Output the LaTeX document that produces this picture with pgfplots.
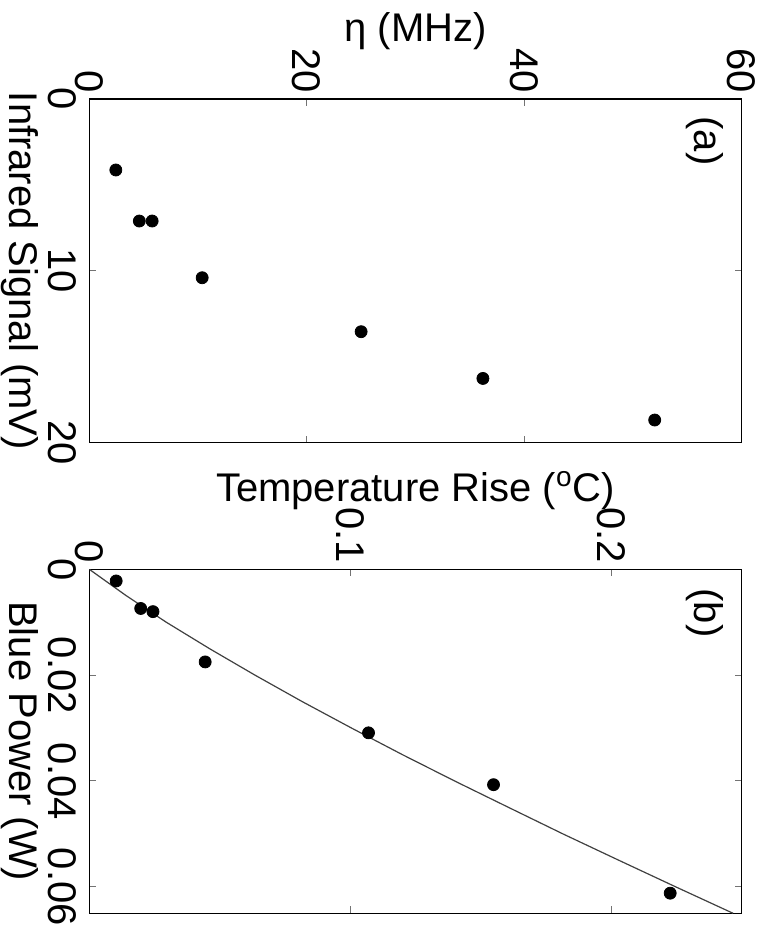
\documentclass[border=0pt]{standalone}
\usepackage{pgfplots}
\usepackage{pgfplotstable}
\pgfplotsset{compat=1.18}
\usepackage{fontspec}
\setmainfont{Liberation Sans}

\pgfplotstableread{
ir eta
4.13 2.44
7.10 4.60
7.10 5.78
10.40 10.38
13.54 25.0
16.26 36.2
18.68 52.0
}\dataA

\pgfplotstableread{
p t
0.0022 0.0103
0.0074 0.0197
0.0080 0.0244
0.0175 0.0444
0.0309 0.1070
0.0407 0.1549
0.0612 0.2226
}\dataB

\pgfplotstableread{
p t
0 0
0.005 0.0142
0.010 0.0295
0.015 0.0461
0.020 0.0635
0.025 0.0816
0.030 0.1005
0.035 0.1199
0.040 0.1400
0.045 0.1607
0.050 0.1815
0.055 0.2030
0.060 0.2247
0.065 0.2467
}\fitB

\pgfplotsset{
  panel/.style={
    scale only axis,
    height=326.2pt,
    scaled x ticks=false,
    scaled y ticks=false,
    axis line style={line width=0.6pt},
    tick style={black!55, line width=0.5pt},
    major tick length=3.5pt,
    tick align=inside,
    xticklabel style={inner sep=0pt, yshift=-6pt},
    yticklabel style={inner sep=0pt, xshift=-3pt},
    xlabel style={at={(axis description cs:0.5,-0.1226)}, anchor=base},
  }
}

\begin{document}
\begin{tikzpicture}[font=\fontsize{20pt}{24pt}\selectfont]
\path[use as bounding box] (0,0) rectangle (385pt,-467pt);
\begin{scope}[rotate=-90, transform shape]
\begin{axis}[panel,
  at={(49.5pt,44.65pt)}, anchor=south west,
  width=171.85pt,
  xmin=0, xmax=20, ymin=0, ymax=60,
  xtick={0,10,20}, xticklabels={0,10,20},
  ytick={0,20,40,60}, yticklabels={0,20,40,60},
  xlabel={Infrared Signal (mV)},
  ylabel={η (MHz)},
  ylabel style={at={(axis description cs:-0.1667,0.5)}, anchor=base},
]
\addplot[only marks, mark=*, mark size=3pt, black] table[x=ir, y=eta] {\dataA};
\node at (axis description cs:0.122,0.944) {(a)};
\end{axis}
\begin{axis}[panel,
  at={(284.65pt,44.65pt)}, anchor=south west,
  width=172pt,
  xmin=0, xmax=0.065, ymin=0, ymax=0.25,
  xtick={0,0.02,0.04,0.06}, xticklabels={0,0.02,0.04,0.06},
  ytick={0,0.1,0.2}, yticklabels={0,0.1,0.2},
  xlabel={Blue Power (W)},
  ylabel={Temperature Rise (\textsuperscript{o}C)},
  ylabel style={at={(axis description cs:-0.1965,0.5)}, anchor=base},
]
\addplot[black!75, line width=0.6pt] table[x=p, y=t] {\fitB};
\addplot[only marks, mark=*, mark size=3pt, black] table[x=p, y=t] {\dataB};
\node at (axis description cs:0.127,0.944) {(b)};
\end{axis}
\end{scope}
\end{tikzpicture}
\end{document}
